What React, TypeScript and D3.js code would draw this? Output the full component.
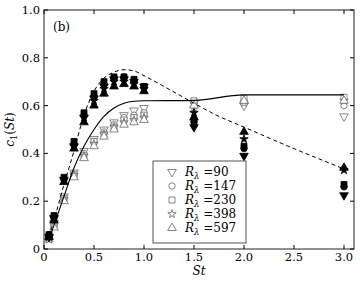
import React from "react";
import * as d3 from "d3";

const stValues = [0.05, 0.1, 0.2, 0.3, 0.4, 0.5, 0.6, 0.7, 0.8, 0.9, 1.0, 1.5, 2.0, 3.0];
const seriesLabels = ["90", "147", "230", "398", "597"];

const open90 = [0.05, 0.11, 0.22, 0.32, 0.41, 0.46, 0.5, 0.53, 0.56, 0.58, 0.59, 0.61, 0.6, 0.555];
const open147 = [0.05, 0.1, 0.21, 0.31, 0.4, 0.45, 0.49, 0.52, 0.55, 0.56, 0.57, 0.61, 0.62, 0.6];
const open230 = [0.05, 0.1, 0.21, 0.31, 0.39, 0.45, 0.48, 0.51, 0.54, 0.55, 0.56, 0.62, 0.63, 0.635];
const open398 = [0.04, 0.1, 0.21, 0.31, 0.39, 0.44, 0.48, 0.51, 0.53, 0.54, 0.55, 0.59, 0.61, 0.62];
const open597 = [0.04, 0.09, 0.2, 0.3, 0.38, 0.43, 0.47, 0.5, 0.52, 0.53, 0.54, 0.6, 0.62, 0.62];

const filled90 = [0.05, 0.13, 0.29, 0.43, 0.55, 0.63, 0.68, 0.71, 0.71, 0.7, 0.68, 0.51, 0.39, 0.225];
const filled147 = [0.06, 0.13, 0.29, 0.44, 0.56, 0.64, 0.69, 0.71, 0.72, 0.7, 0.68, 0.53, 0.42, 0.26];
const filled230 = [0.06, 0.14, 0.3, 0.45, 0.57, 0.65, 0.7, 0.72, 0.72, 0.71, 0.68, 0.54, 0.43, 0.27];
const filled398 = [0.05, 0.13, 0.29, 0.43, 0.55, 0.62, 0.67, 0.7, 0.7, 0.69, 0.67, 0.57, 0.46, 0.33];
const filled597 = [0.05, 0.12, 0.28, 0.42, 0.53, 0.6, 0.65, 0.68, 0.69, 0.68, 0.66, 0.55, 0.49, 0.34];

const solidSt = [0.05, 0.1, 0.2, 0.3, 0.4, 0.5, 0.6, 0.7, 0.8, 0.9, 1.0, 1.5, 2.0, 3.0];
const solidVals = [0.04, 0.1, 0.22, 0.34, 0.43, 0.5, 0.555, 0.59, 0.61, 0.618, 0.62, 0.622, 0.645, 0.645];
const dashedSt = [0.05, 0.1, 0.2, 0.3, 0.4, 0.5, 0.6, 0.7, 0.8, 0.9, 1.0, 1.2, 1.5, 1.7, 2.0, 2.5, 3.0];
const dashedVals = [0.05, 0.12, 0.27, 0.41, 0.56, 0.66, 0.715, 0.74, 0.75, 0.745, 0.725, 0.68, 0.61, 0.565, 0.51, 0.42, 0.335];

const xTicks = [0, 0.5, 1.0, 1.5, 2.0, 2.5, 3.0];
const yTicks = [0, 0.2, 0.4, 0.6, 0.8, 1.0];

const openSeries = [open90, open147, open230, open398, open597];
const filledSeries = [filled90, filled147, filled230, filled398, filled597];

const FONT = "DejaVu Serif, Liberation Serif, serif";

type Shape = { type: d3.SymbolType; rotate: number };
const shapes: Shape[] = [
  { type: d3.symbolTriangle, rotate: 180 },
  { type: d3.symbolCircle, rotate: 0 },
  { type: d3.symbolSquare, rotate: 0 },
  { type: d3.symbolStar, rotate: 0 },
  { type: d3.symbolTriangle, rotate: 0 },
];
const sizes = [32, 32, 36, 22, 32];

function Marker({ i, x, y, filled }: { i: number; x: number; y: number; filled: boolean }) {
  const s = shapes[i];
  const p = d3.symbol().type(s.type).size(sizes[i])() as string;
  return (
    <path
      d={p}
      transform={`translate(${x},${y}) rotate(${s.rotate})`}
      fill={filled ? "#000" : "#fff"}
      stroke={filled ? "#000" : "#666"}
      strokeWidth={0.8}
    />
  );
}

export default function App() {
  const W = 360, H = 283;
  const x = d3.scaleLinear().domain([0, 3.1]).range([44, 354]);
  const y = d3.scaleLinear().domain([0, 1]).range([249, 10]);
  const line = d3
    .line<[number, number]>()
    .x((d) => x(d[0]))
    .y((d) => y(d[1]))
    .curve(d3.curveMonotoneX);
  const solidPts = solidSt.map((s, i) => [s, solidVals[i]] as [number, number]);
  const dashedPts = dashedSt.map((s, i) => [s, dashedVals[i]] as [number, number]);
  const fmt = (v: number) => (v === 0 ? "0" : v.toFixed(1));
  const [x0, x1] = x.range();
  const [yb, yt] = y.range();
  const ts: React.CSSProperties = { fontFamily: FONT };

  return (
    <svg width={W} height={H} style={{ position: "absolute", left: 0, top: 0, background: "#fff", fontFamily: FONT }}>
      <rect x={0} y={0} width={W} height={H} fill="#fff" />
      {openSeries.map((vals, si) =>
        vals.map((v, j) => <Marker key={`o${si}-${j}`} i={si} x={x(stValues[j])} y={y(v)} filled={false} />)
      )}
      {filledSeries.map((vals, si) =>
        vals.map((v, j) => <Marker key={`f${si}-${j}`} i={si} x={x(stValues[j])} y={y(v)} filled={true} />)
      )}
      <path d={line(solidPts) as string} fill="none" stroke="#000" strokeWidth={1.1} />
      <path d={line(dashedPts) as string} fill="none" stroke="#000" strokeWidth={1} strokeDasharray="4,3" />
      <rect x={x0} y={yt} width={x1 - x0} height={yb - yt} fill="none" stroke="#222" strokeWidth={1} />
      {xTicks.map((t) => (
        <g key={`xt${t}`}>
          <line x1={x(t)} x2={x(t)} y1={yb} y2={yb - 4} stroke="#000" />
          <line x1={x(t)} x2={x(t)} y1={yt} y2={yt + 4} stroke="#000" />
          <text x={x(t)} y={261} textAnchor="middle" fontSize={11.5} style={ts}>
            {fmt(t)}
          </text>
        </g>
      ))}
      {yTicks.map((t) => (
        <g key={`yt${t}`}>
          <line x1={x0} x2={x0 + 4} y1={y(t)} y2={y(t)} stroke="#000" />
          <line x1={x1} x2={x1 - 4} y1={y(t)} y2={y(t)} stroke="#000" />
          <text x={40} y={y(t) + 4} textAnchor="end" fontSize={11.5} style={ts}>
            {fmt(t)}
          </text>
        </g>
      ))}
      <text x={53} y={31} fontSize={12} style={ts}>(b)</text>
      <text x={(x0 + x1) / 2} y={275} textAnchor="middle" fontSize={12} fontStyle="italic" style={ts}>
        St
      </text>
      <text transform={`translate(14,${(yb + yt) / 2}) rotate(-90)`} textAnchor="middle" fontSize={12} style={ts}>
        <tspan fontStyle="italic">c</tspan>
        <tspan fontSize={8.5} dy={3}>1</tspan>
        <tspan dy={-3}>(</tspan>
        <tspan fontStyle="italic">St</tspan>
        <tspan>)</tspan>
      </text>
      <rect x={153} y={161} width={93} height={82} fill="#fff" stroke="#555" strokeWidth={1} />
      {seriesLabels.map((lab, i) => (
        <g key={`lg${i}`}>
          <Marker i={i} x={172} y={172 + i * 14} filled={false} />
          <text x={185} y={176 + i * 14} fontSize={12} style={ts}>
            <tspan fontStyle="italic">R</tspan>
            <tspan fontSize={8.5} dy={3} fontStyle="italic">λ</tspan>
            <tspan dy={-3}> =</tspan>
            <tspan>{lab}</tspan>
          </text>
        </g>
      ))}
    </svg>
  );
}
